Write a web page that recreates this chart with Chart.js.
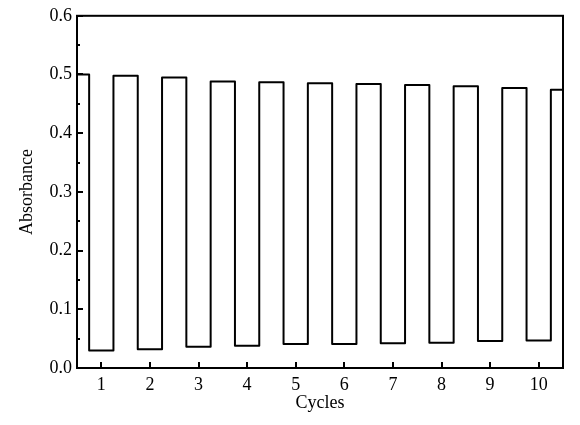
<!DOCTYPE html>
<html>
<head>
<meta charset="utf-8">
<script src="https://cdn.jsdelivr.net/npm/chart.js@4"></script>
<style>
  html, body { margin: 0; padding: 0; background: #fff; }
  #wrap { width: 580px; height: 425px; }
</style>
</head>
<body>
<div id="wrap"><canvas id="chart"></canvas></div>
<script>
// switching times (cycle axis) and the absorbance level reached at each one
var switchTimes = [0.5, 0.75, 1.25, 1.75, 2.25, 2.75, 3.25, 3.75, 4.25, 4.75, 5.25,
  5.75, 6.25, 6.75, 7.25, 7.75, 8.25, 8.75, 9.25, 9.75, 10.25, 10.5];
var absorbance = [0.500, 0.030, 0.498, 0.032, 0.495, 0.036, 0.488, 0.038, 0.487, 0.041, 0.485,
  0.041, 0.484, 0.042, 0.482, 0.043, 0.480, 0.046, 0.477, 0.047, 0.474, 0.474];
var xTicks = [1, 2, 3, 4, 5, 6, 7, 8, 9, 10];
var yTicks = [0, 0.1, 0.2, 0.3, 0.4, 0.5, 0.6];
var yMinorTicks = [0.05, 0.15, 0.25, 0.35, 0.45, 0.55];

var points = switchTimes.map(function (t, i) { return { x: t, y: absorbance[i] }; });
var serif = 'Liberation Serif';

// box frame and inward ticks
var frameTicks = {
  id: 'frameTicks',
  afterDraw: function (chart) {
    var ctx = chart.ctx, a = chart.chartArea;
    var xs = chart.scales.x, ys = chart.scales.y;
    ctx.save();
    ctx.strokeStyle = '#000';
    ctx.lineWidth = 2;
    ctx.strokeRect(a.left, a.top, a.right - a.left, a.bottom - a.top);
    ctx.beginPath();
    xTicks.forEach(function (v) {
      var px = Math.round(xs.getPixelForValue(v));
      ctx.moveTo(px, a.bottom);
      ctx.lineTo(px, a.bottom - 6);
    });
    yTicks.forEach(function (v) {
      var py = Math.round(ys.getPixelForValue(v));
      ctx.moveTo(a.left, py);
      ctx.lineTo(a.left + 6, py);
    });
    yMinorTicks.forEach(function (v) {
      var py = Math.round(ys.getPixelForValue(v));
      ctx.moveTo(a.left, py);
      ctx.lineTo(a.left + 3, py);
    });
    ctx.stroke();
    ctx.restore();
  }
};

new Chart(document.getElementById('chart'), {
  type: 'line',
  data: {
    datasets: [{
      data: points,
      borderColor: '#000',
      borderWidth: 2,
      pointRadius: 0,
      stepped: 'before',
      fill: false,
      borderJoinStyle: 'round'
    }]
  },
  options: {
    responsive: true,
    maintainAspectRatio: false,
    animation: false,
    layout: { padding: { top: 13, right: 17, left: 0, bottom: 0 } },
    plugins: { legend: { display: false }, tooltip: { enabled: false } },
    scales: {
      x: {
        type: 'linear',
        min: 0.5,
        max: 10.5,
        afterBuildTicks: function (scale) {
          scale.ticks = xTicks.map(function (v) { return { value: v }; });
        },
        afterFit: function (scale) { scale.height = 57; },
        grid: { display: false, drawTicks: false },
        border: { display: false },
        ticks: { color: '#000', padding: 6, font: { family: serif, size: 18 } },
        title: {
          display: true,
          text: 'Cycles',
          color: '#000',
          padding: { top: 0, bottom: 11 },
          font: { family: serif, size: 18 }
        }
      },
      y: {
        min: 0,
        max: 0.6,
        afterBuildTicks: function (scale) {
          scale.ticks = yTicks.map(function (v) { return { value: v }; });
        },
        afterFit: function (scale) { scale.width = 77; },
        grid: { display: false, drawTicks: false },
        border: { display: false },
        ticks: {
          color: '#000',
          padding: 5,
          font: { family: serif, size: 18 },
          callback: function (v) { return Number(v).toFixed(1); }
        },
        title: {
          display: true,
          text: 'Absorbance',
          color: '#000',
          padding: { top: 16, bottom: 0 },
          font: { family: serif, size: 18 }
        }
      }
    }
  },
  plugins: [frameTicks]
});
</script>
</body>
</html>
